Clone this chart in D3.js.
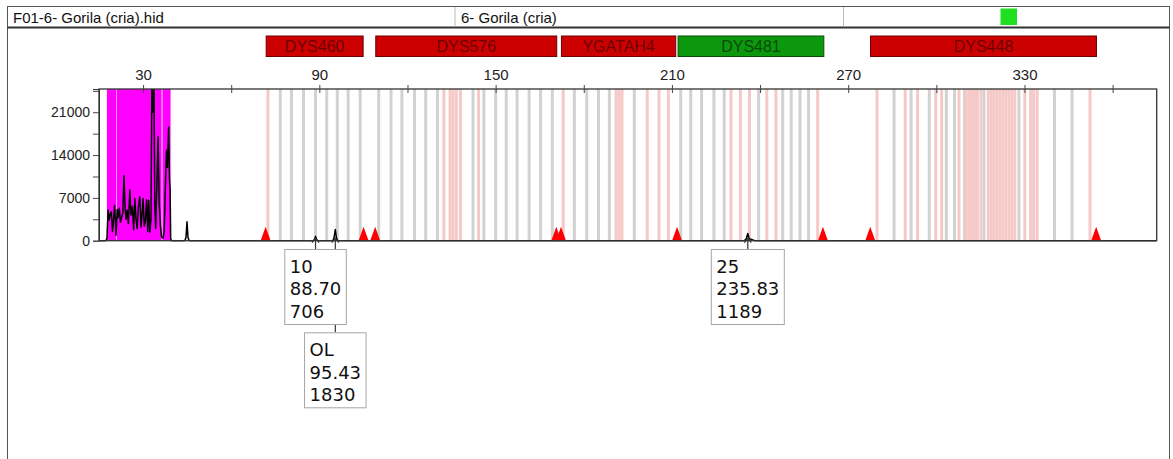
<!DOCTYPE html>
<html>
<head>
<meta charset="utf-8">
<script src="https://cdn.jsdelivr.net/npm/d3@7"></script>
<style>
  body { margin: 0; background: #fff; }
  svg { display: block; }
</style>
</head>
<body>
<svg id="chart" width="1173" height="459"></svg>
<script>
// ---- sample header ----
const sampleFile = "F01-6- Gorila (cria).hid";
const sampleName = "6- Gorila (cria)";

// ---- axis ticks ----
const xTickValues = [30, 60, 90, 120, 150, 180, 210, 240, 270, 300, 330, 360];
const xTickLabels = [30, 90, 150, 210, 270, 330];
const yTickValues = [0, 3500, 7000, 10500, 14000, 17500, 21000, 24500];
const yTickLabels = [0, 7000, 14000, 21000];

// ---- loci (bp ranges) ----
const locusNames = ["DYS460", "DYS576", "YGATAH4", "DYS481", "DYS448"];
const locusStart = [71.9, 109.2, 172.4, 212.1, 277.6];
const locusEnd   = [104.9, 170.8, 211.3, 261.7, 354.5];
const locusPass  = [false, false, false, true, false];

// ---- allele bins (bp) ----
const binsGray = [76.7, 80.5, 84.6, 88.7, 92.5, 96.1, 99.8, 103.9, 110.2, 114.4, 118.1,
  122.4, 126.2, 130.2, 142.3, 146.0, 150.0, 153.6, 157.3, 161.4, 165.3, 169.3, 176.8,
  181.0, 185.0, 188.7, 197.2, 213.0, 216.4, 220.1, 224.3, 227.8, 239.5, 247.7, 250.6,
  253.6, 256.5, 285.6, 291.4, 297.6, 303.4, 306.2, 309.6, 316.2, 328.1, 340.2, 346.2];
const binsPink = [72.5, 132.4, 134.5, 135.5, 136.6, 138.0, 144.2, 173.0, 191.0, 192.0,
  193.0, 201.6, 205.6, 208.8, 230.1, 233.3, 236.4, 242.3, 245.4, 259.6, 279.8, 289.4,
  293.6, 299.8, 301.8, 307.7, 310.0, 311.0, 312.0, 313.0, 314.0, 315.2, 317.7, 318.7,
  319.7, 320.7, 321.7, 322.7, 323.7, 324.7, 325.7, 326.7, 330.1, 332.1, 333.1, 334.3, 352.3];

// ---- size-standard markers (bp) ----
const markerSizes = [71.7, 105.05, 109.0, 170.65, 172.25, 211.75, 261.4, 277.5, 354.4];

// ---- shaded primer-peak window (bp) ----
const shadeStart = [17.7, 21.1, 36.6];
const shadeEnd   = [20.9, 36.3, 39.35];

// ---- electropherogram trace ----
const traceSize = [15, 17.3, 17.7, 18.1, 18.5, 18.8, 19.2, 19.6, 20.0, 20.3, 20.6, 20.8,
  21.2, 21.5, 21.9, 22.3, 22.7, 23.1, 23.5, 23.9, 24.2, 24.6, 25.0, 25.5, 25.9, 26.4,
  26.8, 27.2, 27.6, 28.0, 28.4, 28.9, 29.3, 29.6, 30.0, 30.4, 30.8, 31.2, 31.6, 31.9,
  32.3, 32.7, 33.0, 33.35, 33.7, 34.0, 34.3, 34.7, 35.1, 35.5, 35.9, 36.3, 36.8, 37.2,
  37.6, 38.0, 38.3, 38.7, 39.0, 39.2, 39.4, 39.7, 44.2, 44.6, 44.95, 45.3, 45.7,
  87.9, 88.3, 89.1, 89.5, 94.6, 95.0, 95.8, 96.2, 234.6, 235.2, 236.3, 237.3, 238.2, 375];
const traceRfu = [0, 0, 400, 5000, 3400, 4300, 4700, 1500, 3800, 5800, 3000, 900,
  5100, 3800, 5300, 3000, 3800, 4500, 10600, 5200, 3500, 5000, 2800, 8300, 4200, 5600,
  1800, 6900, 3500, 2000, 5500, 7200, 2200, 4000, 6900, 2400, 3200, 6700, 1500, 6600,
  1400, 3600, 26000, 21000, 26000, 6000, 2000, 9000, 17000, 6000, 2500, 600, 400, 1500,
  9000, 14800, 12000, 18600, 10000, 8500, 300, 0, 0, 500, 3100, 500, 0,
  0, 150, 150, 0, 0, 500, 500, 0, 0, 200, 300, 180, 0, 0];

// ---- called peaks ----
const peakAllele = ["10", "OL", "25"];
const peakSize   = [88.70, 95.43, 235.83];
const peakHeight = [706, 1830, 1189];

// ---------------------------------------------------------------
const svg = d3.select("#chart");
const plot = { left: 99, right: 1156.7, top: 89, bottom: 240.7 };

const x = d3.scaleLinear().domain([15, 375]).range([plot.left, plot.right]);
const y = d3.scaleLinear().domain([0, 24800]).range([plot.bottom, plot.top]);

// outer frame and header
svg.append("rect").attr("x", 7.5).attr("y", 6.5).attr("width", 1162).attr("height", 480)
  .attr("fill", "none").attr("stroke", "#555").attr("stroke-width", 1);
svg.append("line").attr("x1", 7.5).attr("x2", 1169.5).attr("y1", 27.5).attr("y2", 27.5)
  .attr("stroke", "#333").attr("stroke-width", 2.2);
[455, 843.5].forEach(d => svg.append("line").attr("x1", d).attr("x2", d)
  .attr("y1", 7).attr("y2", 26.5).attr("stroke", "#bbb").attr("stroke-width", 1));
svg.append("text").attr("x", 13).attr("y", 23).text(sampleFile)
  .attr("font-family", "Liberation Sans, Arial, sans-serif").attr("font-size", 15).attr("fill", "#111");
svg.append("text").attr("x", 461).attr("y", 23).text(sampleName)
  .attr("font-family", "Liberation Sans, Arial, sans-serif").attr("font-size", 15).attr("fill", "#111");
svg.append("rect").attr("x", 1000.5).attr("y", 8.5).attr("width", 16.5).attr("height", 16.5)
  .attr("fill", "#1ee01e");

// locus boxes
const locusG = svg.append("g");
locusNames.forEach((name, i) => {
  const x0 = x(locusStart[i]), x1 = x(locusEnd[i]);
  locusG.append("rect").attr("x", x0).attr("y", 36).attr("width", x1 - x0).attr("height", 20.5)
    .attr("fill", locusPass[i] ? "#0c980c" : "#cc0000")
    .attr("stroke", locusPass[i] ? "#0a4d0a" : "#6d0000").attr("stroke-width", 1);
  locusG.append("text").attr("x", (x0 + x1) / 2).attr("y", 52).attr("text-anchor", "middle")
    .attr("font-family", "Liberation Sans, Arial, sans-serif").attr("font-size", 16)
    .attr("fill", locusPass[i] ? "#0a4a0a" : "#6e0000").text(name);
});

// clip for the plot body
svg.append("clipPath").attr("id", "plotClip").append("rect")
  .attr("x", plot.left).attr("y", plot.top)
  .attr("width", plot.right - plot.left).attr("height", plot.bottom - plot.top + 1);

const body = svg.append("g").attr("clip-path", "url(#plotClip)");

// shaded window
body.selectAll("rect.shade").data(shadeStart).join("rect").attr("class", "shade")
  .attr("x", (d) => x(d)).attr("y", plot.top)
  .attr("width", (d, i) => x(shadeEnd[i]) - x(d)).attr("height", plot.bottom - plot.top)
  .attr("fill", "#ff00ff");

// bins
body.selectAll("line.gbin").data(binsGray).join("line").attr("class", "gbin")
  .attr("x1", d => x(d)).attr("x2", d => x(d)).attr("y1", plot.top).attr("y2", plot.bottom)
  .attr("stroke", "#d2d2d2").attr("stroke-width", 3);
body.selectAll("line.pbin").data(binsPink).join("line").attr("class", "pbin")
  .attr("x1", d => x(d)).attr("x2", d => x(d)).attr("y1", plot.top).attr("y2", plot.bottom)
  .attr("stroke", "#f6c9c9").attr("stroke-width", 3);

// trace (called peak apexes merged in)
const tracePts = traceSize.map((s, i) => [s, traceRfu[i]])
  .concat(peakSize.map((s, i) => [s, peakHeight[i]]))
  .sort((a, b) => a[0] - b[0]);
body.append("path").datum(tracePts)
  .attr("d", d3.line().x(d => x(d[0])).y(d => y(d[1])))
  .attr("fill", "none").attr("stroke", "#000").attr("stroke-width", 1.5)
  .attr("stroke-linejoin", "round");

// size-standard markers
body.selectAll("path.mk").data(markerSizes).join("path").attr("class", "mk")
  .attr("d", d => `M${x(d) - 5},${plot.bottom} L${x(d)},${plot.bottom - 14} L${x(d) + 5},${plot.bottom} Z`)
  .attr("fill", "#ff0000");

// plot frame
svg.append("rect").attr("x", plot.left).attr("y", plot.top)
  .attr("width", plot.right - plot.left).attr("height", plot.bottom - plot.top)
  .attr("fill", "none").attr("stroke", "#333").attr("stroke-width", 1.3);

// top axis
const xAxis = d3.axisTop(x).tickValues(xTickValues).tickSize(0)
  .tickFormat(d => xTickLabels.includes(d) ? d : "");
const gx = svg.append("g").attr("transform", `translate(0,${plot.top})`).call(xAxis);
gx.select(".domain").remove();
gx.selectAll(".tick text").attr("font-family", "Liberation Sans, Arial, sans-serif")
  .attr("font-size", 15).attr("fill", "#222").attr("y", -9);
gx.selectAll(".tick").append("line").attr("y1", -4).attr("y2", 4)
  .attr("stroke", "#444").attr("stroke-width", 1);

// left axis
const yAxis = d3.axisLeft(y).tickValues(yTickValues).tickSize(6).tickPadding(3)
  .tickFormat(d => yTickLabels.includes(d) ? d : "");
const gy = svg.append("g").attr("transform", `translate(${plot.left},0)`).call(yAxis);
gy.select(".domain").attr("stroke", "#333");
gy.selectAll(".tick line").attr("stroke", "#444");
gy.selectAll(".tick text").attr("font-family", "Liberation Sans, Arial, sans-serif")
  .attr("font-size", 14).attr("fill", "#222");

// peak labels
const labelFont = "DejaVu Sans, Verdana, sans-serif";
const boxTop = 249, boxH = 75, rowStep = 83.3, pad = 5;
const labels = peakAllele.map((a, i) => ({
  lines: [a, peakSize[i].toFixed(2), String(peakHeight[i])],
  cx: x(peakSize[i])
}));
// measure text widths
const meas = svg.append("text").attr("font-family", labelFont).attr("font-size", 18);
labels.forEach(l => {
  l.w = d3.max(l.lines, t => { meas.text(t); return meas.node().getComputedTextLength(); }) + 2 * pad;
});
meas.remove();
// stack boxes that would overlap
const rowEnds = [];
labels.forEach(l => {
  let r = 0;
  while (rowEnds[r] !== undefined && rowEnds[r] > l.cx - l.w / 2 - 2) r++;
  l.row = r;
  rowEnds[r] = l.cx + l.w / 2;
});
const lblG = svg.append("g");
labels.forEach(l => {
  const top = boxTop + l.row * rowStep;
  lblG.append("line").attr("x1", l.cx).attr("x2", l.cx).attr("y1", plot.bottom - 2).attr("y2", top)
    .attr("stroke", "#333").attr("stroke-width", 1.2);
  lblG.append("path").attr("d", `M${l.cx - 3.5},${plot.bottom + 2} L${l.cx},${plot.bottom - 2.5} L${l.cx + 3.5},${plot.bottom + 2}`)
    .attr("fill", "none").attr("stroke", "#333").attr("stroke-width", 1.2);
});
labels.forEach(l => {
  const top = boxTop + l.row * rowStep;
  lblG.append("rect").attr("x", l.cx - l.w / 2).attr("y", top + 0.5).attr("width", l.w).attr("height", boxH)
    .attr("fill", "#fff").attr("stroke", "#a6a6a6").attr("stroke-width", 1);
  l.lines.forEach((t, k) => {
    lblG.append("text").attr("x", l.cx - l.w / 2 + pad).attr("y", top + 23.5 + k * 22.8)
      .attr("font-family", labelFont).attr("font-size", 18).attr("fill", "#111").text(t);
  });
});
</script>
</body>
</html>
